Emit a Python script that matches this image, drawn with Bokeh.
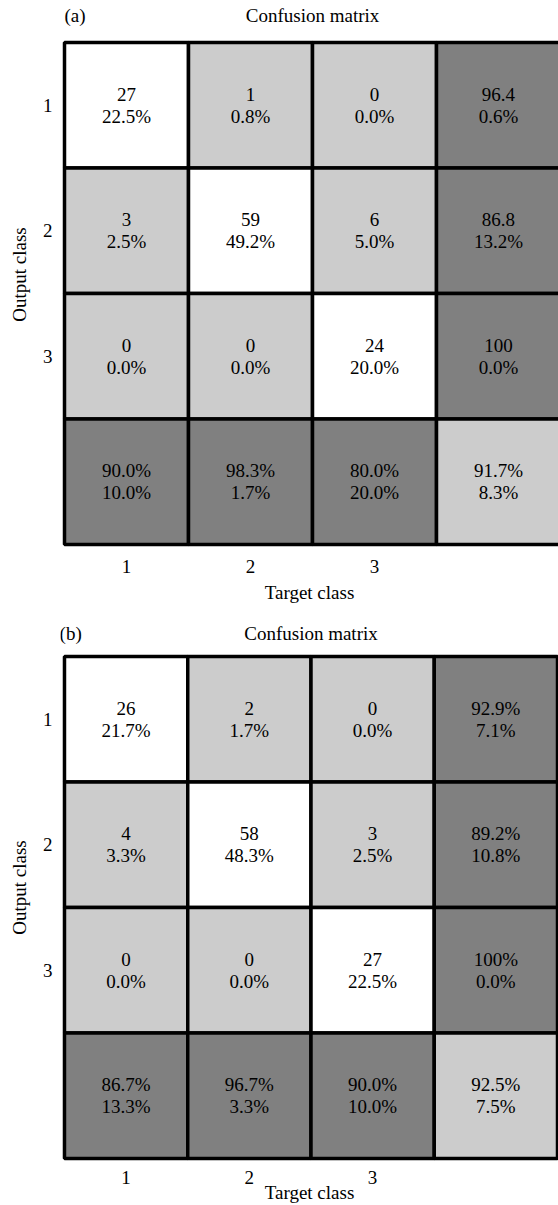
from bokeh.plotting import figure
from bokeh.layouts import column
from bokeh.models import Range1d, FixedTicker, ColumnDataSource
from bokeh.core.properties import value
from bokeh.embed import file_html
from bokeh.resources import INLINE

class_ticks = [1, 2, 3]

# ---- panel (a) ----
counts_a = [[27, 1, 0], [3, 59, 6], [0, 0, 24]]
share_a = [[22.5, 0.8, 0.0], [2.5, 49.2, 5.0], [0.0, 0.0, 20.0]]
row_hit_a = [96.4, 86.8, 100]
row_miss_a = [0.6, 13.2, 0.0]
col_hit_a = [90.0, 98.3, 80.0]
col_miss_a = [10.0, 1.7, 20.0]
total_hit_a = 91.7
total_miss_a = 8.3

# ---- panel (b) ----
counts_b = [[26, 2, 0], [4, 58, 3], [0, 0, 27]]
share_b = [[21.7, 1.7, 0.0], [3.3, 48.3, 2.5], [0.0, 0.0, 22.5]]
row_hit_b = [92.9, 89.2, 100]
row_miss_b = [7.1, 10.8, 0.0]
col_hit_b = [86.7, 96.7, 90.0]
col_miss_b = [13.3, 3.3, 10.0]
total_hit_b = 92.5
total_miss_b = 7.5

FONT = "Liberation Serif"
SIZE = "19px"
WHITE, LIGHT, DARK = "#ffffff", "#cccccc", "#808080"


def build_cells(counts, share, row_hit, row_miss, row_suffix,
                col_hit, col_miss, total_hit, total_miss):
    xs, ys, fills, labels = [], [], [], []
    for i in range(3):
        for j in range(3):
            xs.append(j + 1)
            ys.append(i + 1)
            fills.append(WHITE if i == j else LIGHT)
            labels.append(f"{counts[i][j]}\n{share[i][j]:.1f}%")
    for i in range(3):
        xs.append(4)
        ys.append(i + 1)
        fills.append(DARK)
        labels.append(f"{row_hit[i]:g}{row_suffix}\n{row_miss[i]:.1f}%")
    for j in range(3):
        xs.append(j + 1)
        ys.append(4)
        fills.append(DARK)
        labels.append(f"{col_hit[j]:.1f}%\n{col_miss[j]:.1f}%")
    xs.append(4)
    ys.append(4)
    fills.append(LIGHT)
    labels.append(f"{total_hit:.1f}%\n{total_miss:.1f}%")
    return ColumnDataSource(dict(x=xs, y=ys, fill=fills, label=labels))


def panel(tag, source, height, border_left, border_bottom,
          x_start, x_end, y_bottom, y_top, title_y, tag_x,
          x_standoff, x_label_standoff):
    p = figure(width=558, height=height, output_backend="svg",
               toolbar_location=None,
               x_range=Range1d(x_start, x_end),
               y_range=Range1d(y_bottom, y_top),
               min_border_left=border_left, min_border_right=0,
               min_border_top=0, min_border_bottom=border_bottom)
    p.background_fill_color = "white"
    p.border_fill_color = "white"
    p.outline_line_color = None
    p.grid.visible = False

    p.rect(x="x", y="y", width=1, height=1, source=source,
           fill_color="fill", line_color="black", line_width=3.5)
    p.text(x="x", y="y", text="label", source=source,
           text_align="center", text_baseline="middle",
           text_font=value(FONT), text_font_size=SIZE,
           text_line_height=1.05, text_color="black")

    p.text(x=[2.5], y=[title_y], text=["Confusion matrix"],
           text_align="center", text_baseline="middle",
           text_font=value(FONT), text_font_size=SIZE, text_color="black")
    p.text(x=[tag_x], y=[title_y], text=[tag],
           text_align="left", text_baseline="middle",
           text_font=value(FONT), text_font_size=SIZE, text_color="black")

    for ax in (p.xaxis[0], p.yaxis[0]):
        ax.ticker = FixedTicker(ticks=class_ticks)
        ax.axis_line_color = None
        ax.major_tick_line_color = None
        ax.minor_tick_line_color = None
        ax.major_tick_out = 0
        ax.major_tick_in = 0
        ax.major_label_text_font = FONT
        ax.major_label_text_font_size = SIZE
        ax.major_label_text_color = "black"
        ax.axis_label_text_font = FONT
        ax.axis_label_text_font_size = SIZE
        ax.axis_label_text_font_style = "normal"
        ax.axis_label_text_color = "black"

    p.xaxis.axis_label = "Target class"
    p.xaxis.major_label_standoff = x_standoff
    p.xaxis.axis_label_standoff = x_label_standoff
    p.yaxis.axis_label = "Output class"
    p.yaxis.major_label_standoff = 8
    p.yaxis.axis_label_standoff = 10
    return p


src_a = build_cells(counts_a, share_a, row_hit_a, row_miss_a, "",
                    col_hit_a, col_miss_a, total_hit_a, total_miss_a)
src_b = build_cells(counts_b, share_b, row_hit_b, row_miss_b, "%",
                    col_hit_b, col_miss_b, total_hit_b, total_miss_b)

# panel (a): cells 124 px wide, 125.5 px tall; grid begins 42 px below the top
fig_a = panel("(a)", src_a, height=612, border_left=60, border_bottom=64,
              x_start=0.5 - 4 / 124, x_end=0.5 - 4 / 124 + 498 / 124,
              y_bottom=4.5 + 4 / 125.5, y_top=0.5 - 42 / 125.5,
              title_y=0.5 - 27 / 125.5, tag_x=0.5,
              x_standoff=11, x_label_standoff=6)

# panel (b): cells 123.75 px wide, 125.75 px tall; grid begins 44 px below the top
fig_b = panel("(b)", src_b, height=593, border_left=58, border_bottom=42,
              x_start=0.5 - 4 / 123.75, x_end=0.5 - 4 / 123.75 + 500 / 123.75,
              y_bottom=4.5 + 4 / 125.75, y_top=0.5 - 44 / 125.75,
              title_y=0.5 - 23 / 125.75, tag_x=0.46,
              x_standoff=8, x_label_standoff=-5)

layout = column(fig_a, fig_b, spacing=0)

with open("out.html", "w") as f:
    f.write(file_html(layout, INLINE))
